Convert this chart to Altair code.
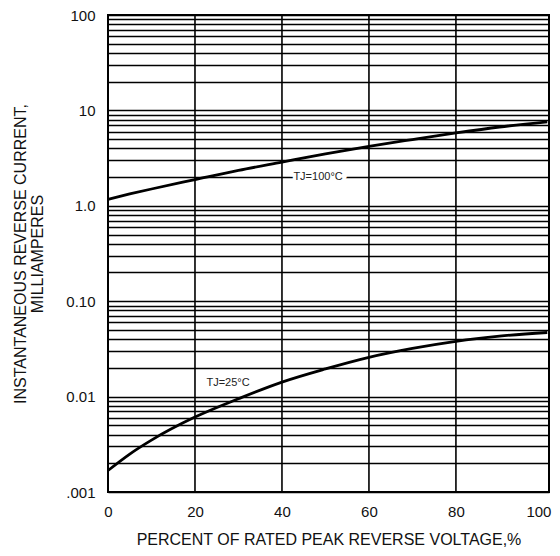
import altair as alt
import pandas as pd

# Reverse current curves (percent of rated PRV vs mA)
pct = [0, 5, 10, 20, 30, 40, 50, 60, 70, 80, 90, 101]
i_100c = [1.17, 1.33, 1.5, 1.88, 2.35, 2.87, 3.5, 4.2, 4.95, 5.8, 6.7, 7.6]
i_25c = [0.00168, 0.0025, 0.0035, 0.0061, 0.0095, 0.0142, 0.0195, 0.0258, 0.032, 0.038, 0.043, 0.047]

# Axis values
decades = [0.001, 0.01, 0.1, 1, 10, 100]
decade_labels = [".001", "0.01", "0.10", "1.0", "10", "100"]
multipliers = [1, 2, 3, 4, 5, 6, 7, 8, 9]
x_ticks = [0, 20, 40, 60, 80, 100]
x_grid = [20, 40, 60, 80]

# Annotations
ann_text = ["TJ=100°C", "TJ=25°C"]
ann_x = [48.3, 27.6]
ann_y = [2.0, 0.0138]

y_grid = [m * d for d in decades[:-1] for m in multipliers] + [100]

df = pd.DataFrame({
    "pct": pct * 2,
    "current": i_100c + i_25c,
    "series": ["100"] * len(pct) + ["25"] * len(pct),
})
ann = pd.DataFrame({"x": ann_x, "y": ann_y, "t": ann_text})
vgrid = pd.DataFrame({"x": x_grid})

expr = "".join(
    f"datum.value == {v} ? '{l}' : " for v, l in zip(decades, decade_labels)
) + "''"

FONT = "Liberation Sans"
xscale = alt.Scale(domain=[0, 101.4], nice=False, zero=False)

x_enc = alt.X(
    "pct:Q",
    scale=xscale,
    axis=alt.Axis(
        values=x_ticks, title="PERCENT OF RATED PEAK REVERSE VOLTAGE,%",
        grid=False, ticks=False, tickSize=0, domain=False, labelFlush=False,
        labelAlign=alt.condition("datum.value == 100", alt.value("right"), alt.value("center")),
        labelOffset=alt.condition("datum.value == 100", alt.value(8), alt.value(0)),
        labelPadding=12, labelFontSize=15, labelFont=FONT, labelColor="#111",
        titleFont=FONT, titleFontSize=16, titleFontWeight="normal",
        titleColor="#111", titlePadding=12,
    ),
)
y_enc = alt.Y(
    "current:Q",
    scale=alt.Scale(type="log", domain=[0.001, 100], nice=False),
    axis=alt.Axis(
        values=y_grid, labelExpr=expr, labelOverlap=False,
        title=["INSTANTANEOUS REVERSE CURRENT,", "MILLIAMPERES"],
        grid=True, gridColor="black", gridWidth=1.6, gridOpacity=1,
        ticks=False, tickSize=0, domain=False,
        labelPadding=13, labelFontSize=15, labelFont=FONT, labelColor="#111",
        titleFont=FONT, titleFontSize=16, titleFontWeight="normal",
        titleColor="#111", titlePadding=20, titleLineHeight=17,
    ),
)

rules = alt.Chart(vgrid).mark_rule(color="black", strokeWidth=1.6).encode(
    x=alt.X("x:Q", scale=xscale)
)

lines = alt.Chart(df).mark_line(color="black", strokeWidth=2.8, interpolate="monotone").encode(
    x=x_enc, y=y_enc, detail="series:N"
)

halo = alt.Chart(ann.iloc[[0]]).mark_text(
    font=FONT, fontSize=11, color="white", stroke="white", strokeWidth=7
).encode(x="x:Q", y="y:Q", text="t:N")

labels = alt.Chart(ann).mark_text(
    font=FONT, fontSize=11, color="#222"
).encode(x="x:Q", y="y:Q", text="t:N")

chart = alt.layer(rules, lines, halo, labels).properties(
    width=441, height=477,
    autosize=alt.AutoSizeParams(type="none"),
    padding={"left": 100, "top": 7, "right": 3, "bottom": 56},
).configure_view(stroke="black", strokeWidth=2)

chart.save("out.html", embed_options={"renderer": "svg", "actions": False})
